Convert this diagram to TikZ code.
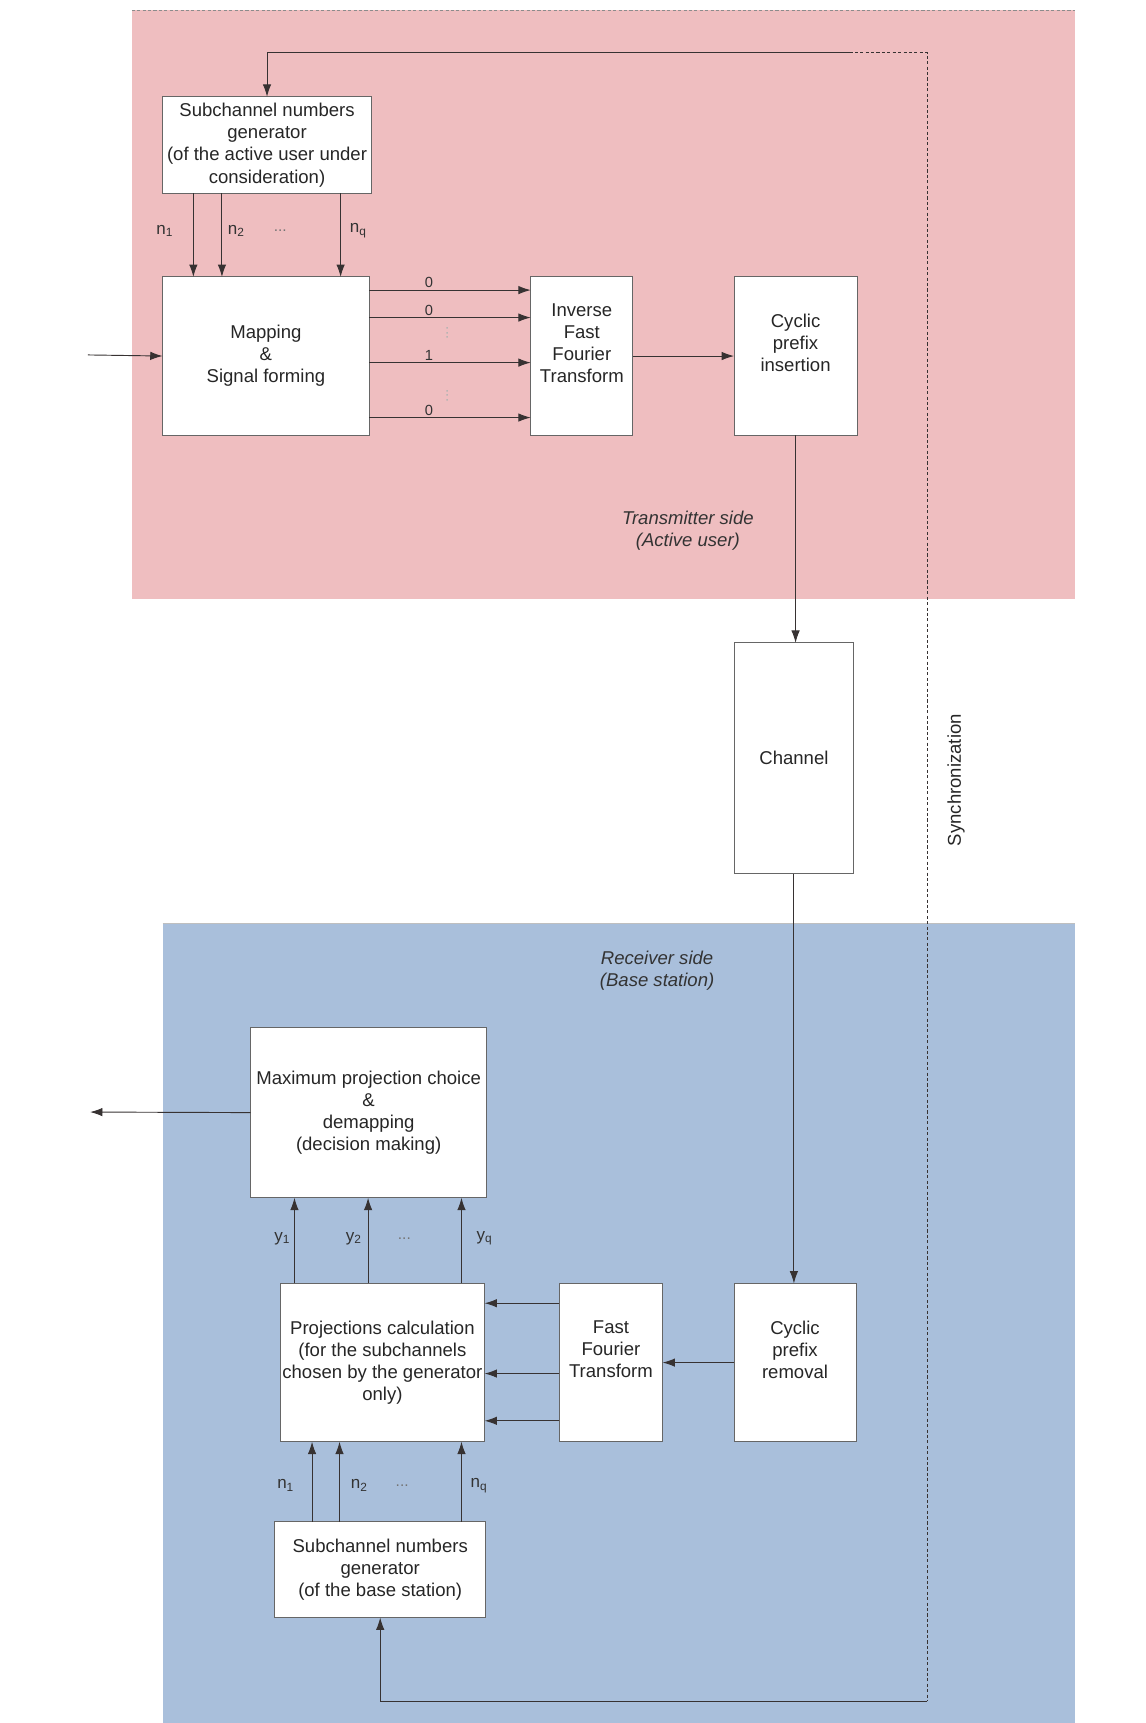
\documentclass[tikz,border=0pt]{standalone}
\usepackage{fontspec}
\setmainfont{Liberation Sans}
\usetikzlibrary{arrows.meta,calc}
\definecolor{txpink}{RGB}{239,190,192}
\definecolor{rxblue}{RGB}{169,191,219}
\definecolor{linegray}{RGB}{55,50,50}
\tikzset{
  blk/.style={draw=black!60, fill=white, line width=0.6pt, align=center,
    inner sep=0pt, outer sep=0pt, text=black!85,
    font=\fontsize{12}{14.3}\selectfont},
  lift/.style={text depth=0.6cm},
  sig/.style={draw=linegray, line width=0.6pt, -{Latex[length=8pt,width=5.5pt]}},
  lbl/.style={text=black!80, font=\fontsize{11}{13}\selectfont, inner sep=0pt},
  dots/.style={text=black!55, font=\fontsize{10}{11}\selectfont, inner sep=0pt},
  bit/.style={text=black!80, font=\fontsize{9.5}{11}\selectfont, inner sep=1pt},
  side/.style={align=center, text=black!80, font=\fontsize{12}{14.3}\itshape}
}
\begin{document}
\begin{tikzpicture}[x=0.025cm,y=-0.025cm]
\useasboundingbox (0,0) rectangle (1042,1568);
% backgrounds
\fill[txpink] (120,9) rectangle (978,545);
\draw[black!45, dash pattern=on 2pt off 1.5pt] (120,9) -- (978,9);
\fill[rxblue] (148,840) rectangle (978,1568);
\draw[black!25] (148,840) -- (978,840);
% transmitter
\node[blk, minimum width=4.75cm, minimum height=2.2cm] (gen1) at (243,132) {Subchannel numbers\\generator\\(of the active user under\\consideration)};
\node[blk, minimum width=4.7cm, minimum height=3.6cm] (map) at (242,324) {Mapping\\\&\\Signal forming};
\node[blk, lift, minimum width=2.325cm, minimum height=3.6cm] (ifft) at (529.5,324) {Inverse\\Fast\\Fourier\\Transform};
\node[blk, lift, minimum width=2.8cm, minimum height=3.6cm] (cpi) at (724,324) {Cyclic\\prefix\\insertion};
\node[blk, minimum width=2.725cm, minimum height=5.25cm] (chan) at (722.5,690) {Channel};
% receiver
\node[blk, minimum width=5.375cm, minimum height=3.875cm] (mpc) at (335.5,1012.5) {Maximum projection choice\\\&\\demapping\\(decision making)};
\node[blk, minimum width=4.65cm, minimum height=3.6cm] (proj) at (348,1240) {Projections calculation\\(for the subchannels\\chosen by the generator\\only)};
\node[blk, lift, minimum width=2.35cm, minimum height=3.6cm] (fft) at (556,1240) {Fast\\Fourier\\Transform};
\node[blk, lift, minimum width=2.775cm, minimum height=3.6cm] (cpr) at (723.5,1240) {Cyclic\\prefix\\removal};
\node[blk, minimum width=4.8cm, minimum height=2.175cm] (gen2) at (346,1428.5) {Subchannel numbers\\generator\\(of the base station)};
% signal path
\coordinate (in) at (80,323);
\draw[sig] (in) -- (map.west);
\foreach \dx in {28,54,162}
  \draw[sig] ($(gen1.south west)+(\dx,0)$) coordinate (p) -- (p |- map.north);
\foreach \dy/\b in {12/0,37/0,78/1,128/0}
  \draw[sig] ($(map.north east)+(0,\dy)$) coordinate (p) -- node[bit, above, pos=.37]{\b} (p -| ifft.west);
\node[dots, rotate=90, text=black!30] (vd1) at (407,303) {...};
\node[dots, rotate=90, text=black!30] (vd2) at (407,360) {...};
\draw[sig] (ifft.east) -- (cpi.west);
\draw[sig] (cpi.south) -- (cpi.south |- chan.north);
\draw[sig] (chan.south) -- (chan.south |- cpr.north);
\draw[sig] (cpr.west) -- (fft.east);
\foreach \dy in {18,82,125}
  \draw[sig] ($(fft.north west)+(0,\dy)$) coordinate (p) -- (p -| proj.east);
\foreach \dx in {13,80,165}
  \draw[sig] ($(proj.north west)+(\dx,0)$) coordinate (p) -- (p |- mpc.south);
\foreach \dx in {34,59,170}
  \draw[sig] ($(gen2.north west)+(\dx,0)$) coordinate (p) -- (p |- proj.south);
\coordinate (out) at (82,1012);
\draw[sig] (mpc.west) -- (out);
% synchronization
\coordinate (s0) at (773,48);
\coordinate (s1) at (844,48);
\coordinate (s2) at (844,1548);
\draw[linegray, line width=0.6pt, dash pattern=on 2pt off 1.5pt] (s0) -- (s1) -- (s2);
\draw[sig] (s0) -| (gen1.north);
\draw[sig] (s2) -| (gen2.south);
\node[rotate=90, text=black!85, font=\fontsize{12}{14.3}\selectfont] (sync) at (870,710) {Synchronization};
% labels
\node[lbl] (ln1) at (150,210) {n\textsubscript{1}};
\node[lbl] (ln2) at (215,210) {n\textsubscript{2}};
\node[dots] (ldt) at (255,210) {...};
\node[lbl] (lnq) at (326,210) {n\textsubscript{q}};
\node[lbl] (ly1) at (257,1127) {y\textsubscript{1}};
\node[lbl] (ly2) at (322,1127) {y\textsubscript{2}};
\node[dots] (ldy) at (368,1127) {...};
\node[lbl] (lyq) at (441,1127) {y\textsubscript{q}};
\node[lbl] (lm1) at (260,1352) {n\textsubscript{1}};
\node[lbl] (lm2) at (327,1352) {n\textsubscript{2}};
\node[dots] (ldm) at (366,1352) {...};
\node[lbl] (lmq) at (436,1352) {n\textsubscript{q}};
\node[side] (tx) at (626,483) {Transmitter side\\(Active user)};
\node[side] (rx) at (598,883) {Receiver side\\(Base station)};
\end{tikzpicture}
\end{document}
